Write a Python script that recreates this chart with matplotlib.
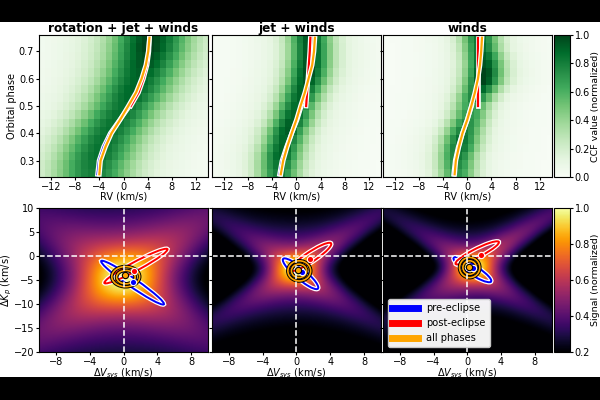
import matplotlib
matplotlib.use("Agg")
import matplotlib.pyplot as plt
import matplotlib.patheffects as pe
from matplotlib.patches import Ellipse, Rectangle
from matplotlib.lines import Line2D
import numpy as np

TITLES = ["rotation + jet + winds", "jet + winds", "winds"]

# ---- CCF trails (top row): one row per orbital phase -----------------------
PHASES = np.linspace(0.25, 0.75, 17)
CCF_CENTER_ROT = [-5.0, -4.8, -4.3, -3.8, -3.2, -2.4, -1.6, -0.7, 0.2,
                  1.0, 1.7, 2.3, 2.9, 3.4, 3.8, 4.1, 4.3]
CCF_CENTER_JET = [-3.0, -2.9, -2.7, -2.4, -2.0, -1.6, -1.0, -0.5, 0.0,
                  0.6, 1.1, 1.6, 1.9, 2.1, 2.2, 2.2, 2.1]
CCF_CENTER_WIND = [-1.8, -1.8, -1.7, -1.4, -1.1, -0.7, -0.2, 0.3, 0.7,
                   1.3, 2.0, 2.5, 2.7, 2.7, 2.5, 2.2, 2.0]
CCF_AMP_ROT = [0.80, 0.82, 0.85, 0.85, 0.85, 0.85, 0.85, 0.85, 0.85,
               0.88, 0.90, 0.90, 0.92, 0.95, 0.97, 1.00, 1.00]
CCF_AMP_JET = [0.80, 0.85, 0.90, 0.90, 0.90, 0.92, 0.92, 0.90, 0.88,
               0.90, 0.92, 0.95, 0.97, 0.97, 0.95, 0.95, 0.95]
CCF_AMP_WIND = [0.70, 0.75, 0.80, 0.85, 0.85, 0.80, 0.75, 0.70, 0.70,
                0.80, 0.90, 1.00, 1.00, 0.95, 0.90, 0.85, 0.85]
CCF_SIGMA = [4.3, 2.4, 2.2]
CCF_WING_AMP = [0.35, 0.22, 0.18]
CCF_WING_SIGMA = [9.0, 6.0, 5.5]

# ---- model tracks drawn over the trails ------------------------------------
TRACK_PHASE = [0.25, 0.30, 0.35, 0.40, 0.45, 0.50, 0.55, 0.60, 0.65, 0.70, 0.75]
ORANGE_ROT = [-4.0, -3.8, -3.0, -2.0, -0.55, 0.8, 2.1, 3.0, 3.7, 4.1, 4.3]
BLUE_ROT = [-4.3, -4.05, -3.3, -2.2, -0.6, 1.0]
RED_ROT = [1.2, 2.5, 3.3, 3.9, 4.2, 4.3]
ORANGE_JET = [-2.6, -2.2, -1.55, -0.8, 0.0, 0.67, 1.4, 2.0, 2.6, 2.9, 3.05]
BLUE_JET = [-2.8, -2.4, -1.65, -0.8, 0.1, 0.8]
RED_JET = [1.6, 1.75, 1.9, 2.05, 2.2, 2.3]
ORANGE_WIND = [-2.1, -1.9, -1.4, -0.8, 0.0, 0.66, 1.27, 1.77, 2.1, 2.3, 2.43]
BLUE_WIND = [-2.25, -2.0, -1.5, -0.8, 0.0, 0.7]
RED_WIND = [1.7, 1.7, 1.7, 1.7, 1.7, 1.7]

# ---- Kp-Vsys fits (bottom row): best-fit points (dVsys, dKp) ---------------
DOT_BLUE = [(1.1, -5.4), (0.7, -3.4), (0.71, -2.6)]
DOT_RED = [(1.27, -3.1), (1.6, -0.6), (1.58, 0.2)]
DOT_ORANGE = [(0.2, -4.0), (0.2, -2.9), (0.24, -2.3)]
# confidence contours: (dVsys, dKp, width, height, angle)
ELL_BLUE = [(1.07, -5.55, 11.7, 1.4, -51), (0.48, -3.7, 7.5, 1.6, -58),
            (0.6, -2.85, 6.7, 1.6, -50)]
ELL_RED = [(1.47, -2.1, 10.3, 1.5, 44), (1.68, -0.2, 7.5, 1.6, 51),
           (1.17, 0.65, 6.9, 1.5, 43)]
ELL_ALL_OUTER = [(0.26, -4.3, 3.3, 4.2, 0), (0.33, -3.1, 2.7, 4.2, 0),
                 (0.28, -2.4, 2.4, 4.2, 0)]
ELL_ALL_INNER = [(0.28, -4.4, 2.2, 2.8, 0), (0.3, -3.1, 1.8, 2.8, 0),
                 (0.28, -2.4, 1.6, 2.8, 0)]

LEGEND_LABELS = ["pre-eclipse", "post-eclipse", "all phases"]
LEGEND_COLORS = ["blue", "red", "orange"]

plt.rcParams["font.size"] = 7.0


def ccf_profile(x, center, amp, i):
    core = np.exp(-0.5 * ((x - center) / CCF_SIGMA[i]) ** 2)
    wing = CCF_WING_AMP[i] * np.exp(-0.5 * ((x - center) / CCF_WING_SIGMA[i]) ** 2)
    return amp * (core + wing) / (1 + CCF_WING_AMP[i])


def ccf_rows(rv, centers, amps, i):
    return np.array([ccf_profile(rv, c, a, i) for c, a in zip(centers, amps)])


def kp_vsys_map(vsys, kp, centers, amps, i):
    # shift-and-add of the trail along dRV = dVsys + dKp * sin(2 pi phase)
    V, K = np.meshgrid(vsys, kp)
    total = np.zeros_like(V)
    for ph, c, a in zip(PHASES, centers, amps):
        total += ccf_profile(V + K * np.sin(2 * np.pi * ph), c, a, i)
    return total / total.max()


def outline(lw, color="white"):
    return [pe.Stroke(linewidth=lw, foreground=color), pe.Normal()]


fig = plt.figure(figsize=(6, 4), dpi=100)
fig.patch.set_facecolor("black")
fig.add_artist(Rectangle((0, 0.0575), 1, 0.8875, transform=fig.transFigure,
                         facecolor="white", edgecolor="none", zorder=-10))

lefts = [0.065, 0.3533, 0.638]
width = 0.2817
centers_all = [CCF_CENTER_ROT, CCF_CENTER_JET, CCF_CENTER_WIND]
amps_all = [CCF_AMP_ROT, CCF_AMP_JET, CCF_AMP_WIND]
tracks = [(ORANGE_ROT, BLUE_ROT, RED_ROT), (ORANGE_JET, BLUE_JET, RED_JET),
          (ORANGE_WIND, BLUE_WIND, RED_WIND)]

rv_grid = np.arange(-13.5, 14, 1.0)
vsys_grid = np.linspace(-10, 10, 161)
kp_grid = np.linspace(-20, 10, 241)

for i in range(3):
    # ---- top: CCF trail ----
    ax = fig.add_axes([lefts[i], 0.5575, width, 0.355])
    img = ccf_rows(rv_grid, centers_all[i], amps_all[i], i)
    im_top = ax.imshow(img, cmap="Greens", vmin=0, vmax=1, origin="lower",
                       aspect="auto", interpolation="nearest",
                       extent=(-14, 14, 0.24, 0.76))
    orange, blue, red = tracks[i]
    ax.plot(blue, TRACK_PHASE[:6], color="blue", lw=1.6, path_effects=outline(3.4))
    ax.plot(red, TRACK_PHASE[5:], color="red", lw=1.6, path_effects=outline(3.4))
    ax.plot(orange, TRACK_PHASE, color="orange", lw=1.6, path_effects=outline(3.4))
    ax.set_xlim(-14, 14)
    ax.set_ylim(0.24, 0.76)
    ax.set_xticks([-12, -8, -4, 0, 4, 8, 12])
    ax.set_yticks([0.3, 0.4, 0.5, 0.6, 0.7])
    ax.set_xlabel("RV (km/s)", labelpad=0)
    ax.set_title(TITLES[i], fontsize=8.7, fontweight="bold", pad=2.5)
    ax.tick_params(length=2.5, pad=1)
    if i == 0:
        ax.set_ylabel("Orbital phase", labelpad=1)
    else:
        ax.set_yticklabels([])

    # ---- bottom: Kp-Vsys map ----
    axb = fig.add_axes([lefts[i], 0.12, width, 0.36])
    kmap = kp_vsys_map(vsys_grid, kp_grid, centers_all[i], amps_all[i], i)
    im_bot = axb.imshow(kmap, cmap="inferno", vmin=0.2, vmax=1, origin="lower",
                        aspect="auto", extent=(-10, 10, -20, 10))
    axb.axvline(0, color="white", ls="--", lw=1.1)
    axb.axhline(0, color="white", ls="--", lw=1.1)
    for ell, col in ((ELL_BLUE[i], "blue"), (ELL_RED[i], "red")):
        e = Ellipse(ell[:2], ell[2], ell[3], angle=ell[4], fill=False,
                    edgecolor=col, lw=1.4, path_effects=outline(3.2))
        axb.add_patch(e)
    for ell in (ELL_ALL_OUTER[i], ELL_ALL_INNER[i]):
        e = Ellipse(ell[:2], ell[2], ell[3], angle=ell[4], fill=False,
                    edgecolor="orange", lw=1.2, path_effects=outline(2.6, "black"))
        axb.add_patch(e)
    axb.plot(*DOT_BLUE[i], "o", color="blue", ms=4.5, mec="white", mew=0.8)
    axb.plot(*DOT_RED[i], "o", color="red", ms=4.5, mec="white", mew=0.8)
    axb.plot(*DOT_ORANGE[i], "o", color="orange", ms=4.5, mec="black", mew=0.8)
    axb.set_xlim(-10, 10)
    axb.set_ylim(-20, 10)
    axb.set_xticks([-8, -4, 0, 4, 8])
    axb.set_yticks([10, 5, 0, -5, -10, -15, -20])
    axb.set_xlabel(r"$\Delta V_{sys}$ (km/s)", labelpad=0)
    axb.tick_params(length=2.5, pad=1)
    if i == 0:
        axb.set_ylabel(r"$\Delta K_p$ (km/s)", labelpad=0)
    else:
        axb.set_yticklabels([])
    if i == 2:
        handles = [Line2D([], [], color=c, lw=5) for c in LEGEND_COLORS]
        axb.legend(handles, LEGEND_LABELS, loc="lower left", handlelength=2.7,
                   fontsize=7.1, framealpha=0.95, borderaxespad=0.5)

cax = fig.add_axes([0.923, 0.5575, 0.027, 0.355])
cb = fig.colorbar(im_top, cax=cax, ticks=[0, 0.2, 0.4, 0.6, 0.8, 1.0])
cb.set_label("CCF value (normalized)", labelpad=0.5, fontsize=6.8)
cb.ax.tick_params(length=2.5, pad=1)
caxb = fig.add_axes([0.923, 0.12, 0.027, 0.36])
cbb = fig.colorbar(im_bot, cax=caxb, ticks=[0.2, 0.4, 0.6, 0.8, 1.0])
cbb.set_label("Signal (normalized)", labelpad=0.5, fontsize=6.8)
cbb.ax.tick_params(length=2.5, pad=1)

fig.savefig("out.png", dpi=100, facecolor=fig.get_facecolor())
